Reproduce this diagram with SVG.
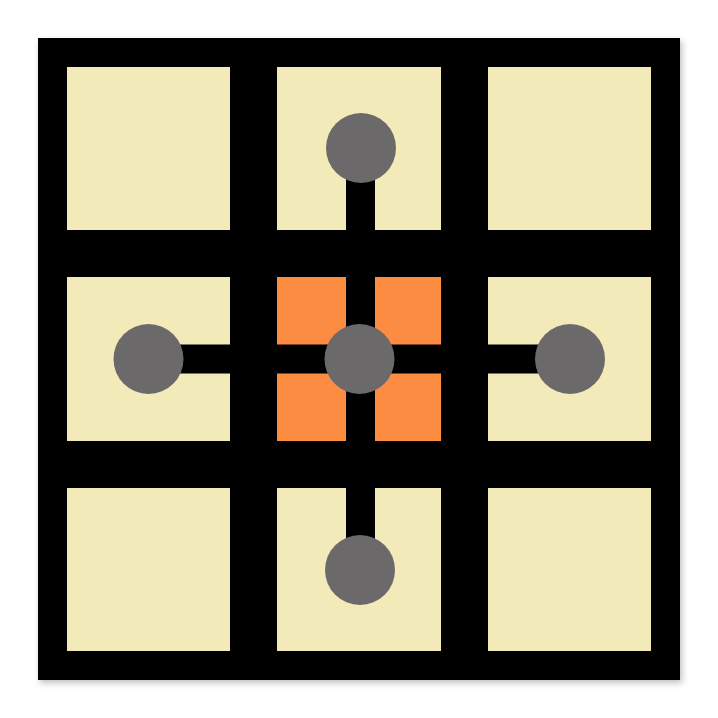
<svg xmlns="http://www.w3.org/2000/svg" width="718" height="718" viewBox="0 0 718 718">
  <defs>
    <filter id="sh" x="-5%" y="-5%" width="112%" height="112%">
      <feDropShadow dx="2" dy="3" stdDeviation="3" flood-color="#000" flood-opacity="0.25"/>
    </filter>
    <style>
      .cell { fill: #f2eab9; }
      .hot { fill: #fd8c43; }
      .node { fill: #6b6969; }
      .bar { fill: #000; }
    </style>
  </defs>
  <rect x="0" y="0" width="718" height="718" fill="#fff"/>
  <g id="board">
    <rect x="38" y="38" width="642" height="642" fill="#000" filter="url(#sh)"/>
    <rect class="cell" x="67" y="67" width="163" height="163"/>
    <rect class="cell" x="277" y="67" width="164" height="163"/>
    <rect class="cell" x="488" y="67" width="163" height="163"/>
    <rect class="cell" x="67" y="277" width="163" height="164"/>
    <rect class="cell" x="488" y="277" width="163" height="164"/>
    <rect class="cell" x="67" y="488" width="163" height="163"/>
    <rect class="cell" x="277" y="488" width="164" height="163"/>
    <rect class="cell" x="488" y="488" width="163" height="163"/>
    <rect class="hot" x="277" y="277" width="164" height="164"/>
  </g>
  <g id="connectors">
    <rect class="bar" x="346" y="148" width="29" height="422"/>
    <rect class="bar" x="148" y="344.5" width="422" height="29"/>
  </g>
  <g id="node-top"><circle class="node" cx="361" cy="148" r="35"/></g>
  <g id="node-left"><circle class="node" cx="148.5" cy="359" r="35"/></g>
  <g id="node-center"><circle class="node" cx="359.5" cy="359" r="35"/></g>
  <g id="node-right"><circle class="node" cx="570" cy="359" r="35"/></g>
  <g id="node-bottom"><circle class="node" cx="360" cy="570" r="35"/></g>
</svg>
